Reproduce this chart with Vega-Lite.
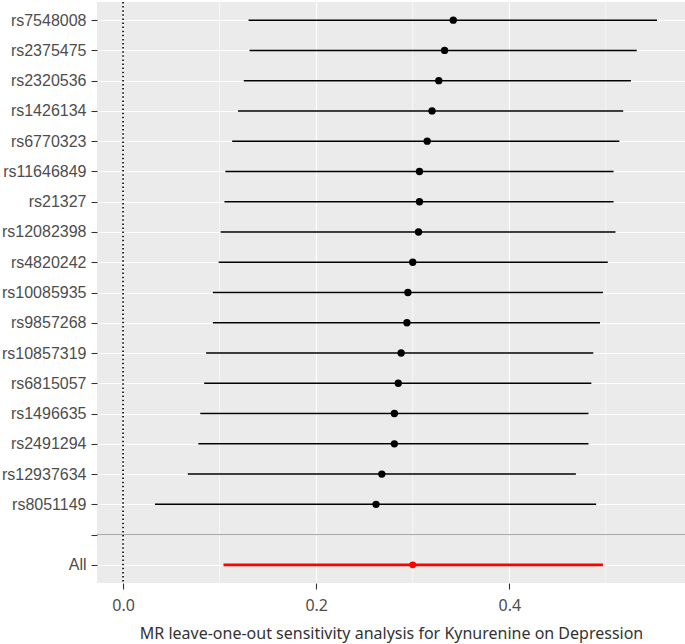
{
  "$schema": "https://vega.github.io/schema/vega-lite/v6.json",
  "width": 588,
  "height": 581,
  "autosize": {"type": "none"},
  "padding": {"left": 97, "top": 2, "right": 0, "bottom": 61},
  "background": "white",
  "config": {
    "view": {"fill": "#EBEBEB", "stroke": null}
  },
  "datasets": {
    "loo": [
      {"snp": "rs7548008", "b": 0.342, "lo": 0.130, "hi": 0.553, "type": "SNP"},
      {"snp": "rs2375475", "b": 0.333, "lo": 0.131, "hi": 0.532, "type": "SNP"},
      {"snp": "rs2320536", "b": 0.327, "lo": 0.125, "hi": 0.526, "type": "SNP"},
      {"snp": "rs1426134", "b": 0.320, "lo": 0.119, "hi": 0.518, "type": "SNP"},
      {"snp": "rs6770323", "b": 0.315, "lo": 0.113, "hi": 0.514, "type": "SNP"},
      {"snp": "rs11646849", "b": 0.307, "lo": 0.106, "hi": 0.508, "type": "SNP"},
      {"snp": "rs21327", "b": 0.307, "lo": 0.105, "hi": 0.508, "type": "SNP"},
      {"snp": "rs12082398", "b": 0.306, "lo": 0.101, "hi": 0.510, "type": "SNP"},
      {"snp": "rs4820242", "b": 0.300, "lo": 0.099, "hi": 0.502, "type": "SNP"},
      {"snp": "rs10085935", "b": 0.295, "lo": 0.093, "hi": 0.497, "type": "SNP"},
      {"snp": "rs9857268", "b": 0.294, "lo": 0.093, "hi": 0.494, "type": "SNP"},
      {"snp": "rs10857319", "b": 0.288, "lo": 0.086, "hi": 0.487, "type": "SNP"},
      {"snp": "rs6815057", "b": 0.285, "lo": 0.084, "hi": 0.485, "type": "SNP"},
      {"snp": "rs1496635", "b": 0.281, "lo": 0.080, "hi": 0.482, "type": "SNP"},
      {"snp": "rs2491294", "b": 0.281, "lo": 0.078, "hi": 0.482, "type": "SNP"},
      {"snp": "rs12937634", "b": 0.268, "lo": 0.067, "hi": 0.469, "type": "SNP"},
      {"snp": "rs8051149", "b": 0.262, "lo": 0.033, "hi": 0.490, "type": "SNP"},
      {"snp": "All", "b": 0.300, "lo": 0.104, "hi": 0.497, "type": "All"}
    ],
    "minor": [{"v": 0.1}, {"v": 0.3}, {"v": 0.5}],
    "zero": [{"v": 0}],
    "blank": [{"snp": " "}]
  },
  "layer": [
    {
      "data": {"name": "minor"},
      "mark": {"type": "rule", "color": "white", "strokeWidth": 0.6},
      "encoding": {
        "x": {"field": "v", "type": "quantitative", "title": "MR leave-one-out sensitivity analysis for Kynurenine on Depression", "scale": {"domain": [-0.027, 0.582], "nice": false, "zero": false}}
      }
    },
    {
      "data": {"name": "blank"},
      "mark": {"type": "rule", "color": "#AAAAAA", "strokeWidth": 1.2},
      "encoding": {
        "y": {"field": "snp", "type": "ordinal", "title": null}
      }
    },
    {
      "data": {"name": "zero"},
      "mark": {"type": "rule", "color": "black", "strokeWidth": 1.6, "strokeDash": [1.5, 2.6]},
      "encoding": {
        "x": {"field": "v", "type": "quantitative", "title": "MR leave-one-out sensitivity analysis for Kynurenine on Depression"}
      }
    },
    {
      "data": {"name": "loo"},
      "mark": {"type": "rule"},
      "encoding": {
        "y": {
          "field": "snp", "type": "ordinal", "title": null,
          "scale": {"type": "point", "padding": 0.6, "domain": ["rs7548008", "rs2375475", "rs2320536", "rs1426134", "rs6770323", "rs11646849", "rs21327", "rs12082398", "rs4820242", "rs10085935", "rs9857268", "rs10857319", "rs6815057", "rs1496635", "rs2491294", "rs12937634", "rs8051149", " ", "All"]},
          "axis": {"grid": true, "gridColor": "white", "gridWidth": 1.1, "domain": false, "tickColor": "#333333", "tickSize": 6, "tickWidth": 1.1, "labelFont": "Liberation Sans", "labelFontSize": 16, "labelColor": "#4D4D4D", "labelPadding": 5, "title": null}
        },
        "x": {
          "field": "lo", "type": "quantitative", "title": "MR leave-one-out sensitivity analysis for Kynurenine on Depression",
          "axis": {"values": [0, 0.2, 0.4], "format": ".1f", "grid": true, "gridColor": "white", "gridWidth": 1.1, "domain": false, "tickColor": "#333333", "tickSize": 6, "tickWidth": 1.1, "labelFont": "Noto Sans", "labelFontSize": 16, "labelColor": "#4D4D4D", "labelBaseline": "alphabetic", "labelPadding": 21, "title": "MR leave-one-out sensitivity analysis for Kynurenine on Depression", "titleFont": "Noto Sans", "titleFontSize": 16, "titleFontWeight": "normal", "titleColor": "#333333", "titleBaseline": "alphabetic", "titleY": 55}
        },
        "x2": {"field": "hi"},
        "color": {"field": "type", "type": "nominal", "scale": {"domain": ["SNP", "All"], "range": ["black", "#FF0000"]}, "legend": null},
        "strokeWidth": {"field": "type", "type": "nominal", "scale": {"domain": ["SNP", "All"], "range": [1.5, 2.8]}, "legend": null}
      }
    },
    {
      "data": {"name": "loo"},
      "mark": {"type": "point", "filled": true, "opacity": 1},
      "encoding": {
        "y": {"field": "snp", "type": "ordinal", "title": null},
        "x": {"field": "b", "type": "quantitative", "title": "MR leave-one-out sensitivity analysis for Kynurenine on Depression"},
        "color": {"field": "type", "type": "nominal", "scale": {"domain": ["SNP", "All"], "range": ["black", "#FF0000"]}, "legend": null},
        "size": {"field": "type", "type": "nominal", "scale": {"domain": ["SNP", "All"], "range": [54, 48]}, "legend": null}
      }
    }
  ]
}
